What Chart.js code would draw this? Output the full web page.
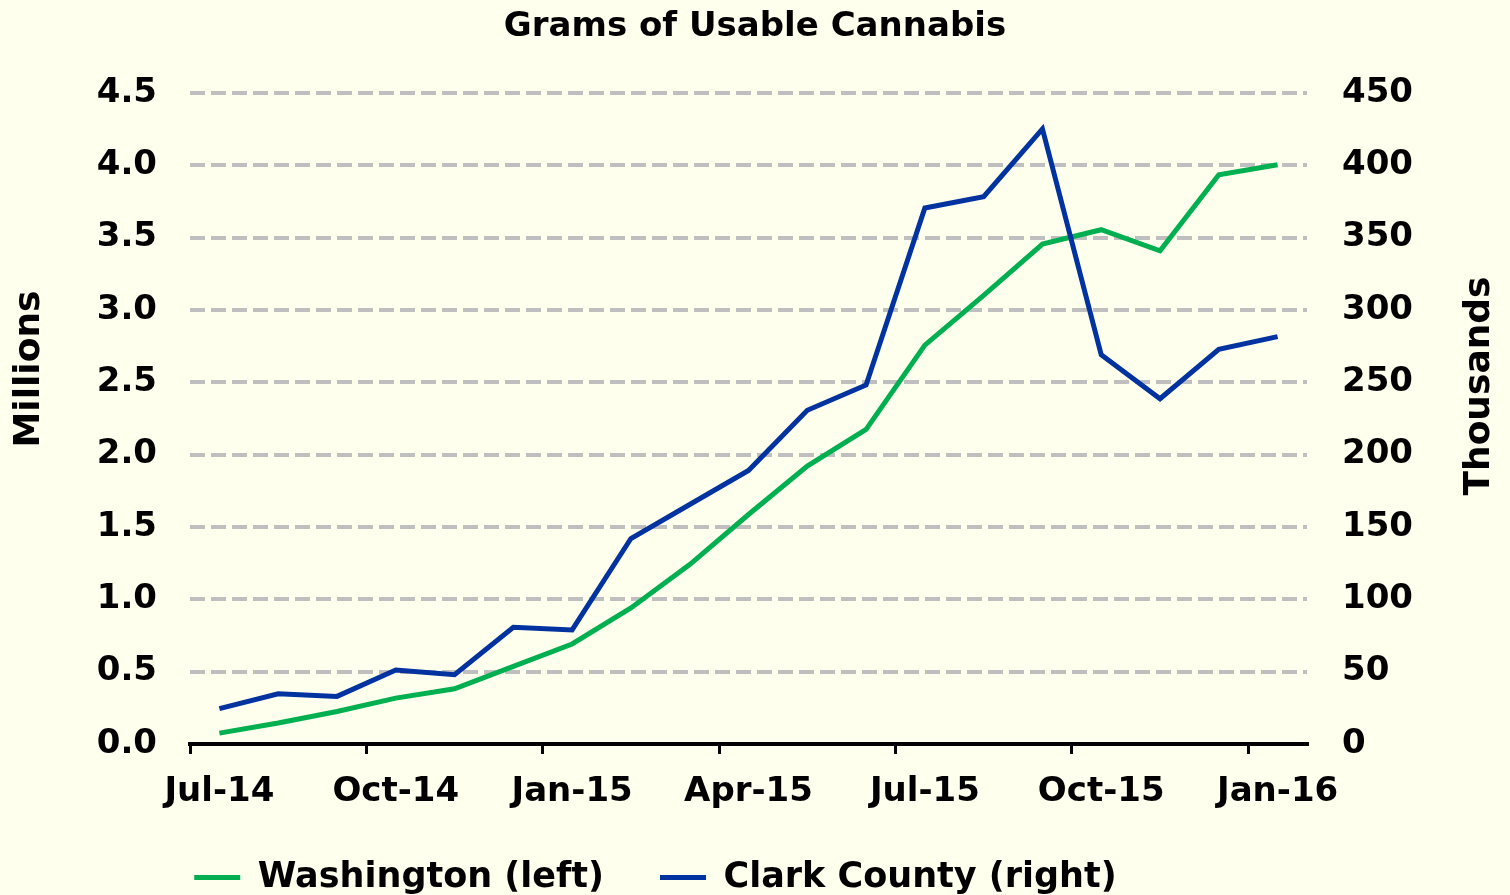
<!DOCTYPE html>
<html lang="en">
<head>
    <meta charset="UTF-8">
    <title>Grams of Usable Cannabis</title>
    <script src="https://cdn.jsdelivr.net/npm/chart.js"></script>
    <style>
        html, body {
            margin: 0;
            padding: 0;
            background: #FFFFEE;
        }
        #wrap {
            width: 1510px;
            height: 895px;
        }
    </style>
</head>
<body>
    <div id="wrap"><canvas id="gramsChart"></canvas></div>

    <script>
        // monthly data, Jul-14 .. Jan-16
        const months = ['Jul-14', 'Aug-14', 'Sep-14', 'Oct-14', 'Nov-14', 'Dec-14',
                        'Jan-15', 'Feb-15', 'Mar-15', 'Apr-15', 'May-15', 'Jun-15',
                        'Jul-15', 'Aug-15', 'Sep-15', 'Oct-15', 'Nov-15', 'Dec-15', 'Jan-16'];
        // Washington, millions of grams (left axis)
        const washington = [0.075, 0.145, 0.225, 0.317, 0.382, 0.536, 0.691, 0.94, 1.24, 1.586,
                            1.92, 2.174, 2.756, 3.10, 3.455, 3.554, 3.408, 3.934, 4.003];
        // Clark County, thousands of grams (right axis)
        const clarkCounty = [24.4, 34.7, 32.9, 51.1, 47.9, 80.6, 78.8, 142, 165.5, 189,
                             230.6, 248.1, 370.4, 378.2, 425, 268.9, 238.6, 272.8, 281.5];
        const leftTitle = 'Millions';
        const rightTitle = 'Thousands';

        const FONT = '"DejaVu Sans", Verdana, sans-serif';
        Chart.defaults.font.family = FONT;
        Chart.defaults.font.weight = 'bold';
        Chart.defaults.font.size = 34;
        Chart.defaults.color = '#000';

        // both axis titles read bottom-to-top in the original
        const axisTitles = {
            id: 'axisTitles',
            afterDraw(chart) {
                const ctx = chart.ctx;
                ctx.save();
                ctx.font = 'bold 36px ' + FONT;
                ctx.fillStyle = '#000';
                ctx.textAlign = 'center';
                ctx.textBaseline = 'middle';
                [[leftTitle, 30, 369], [rightTitle, 1480, 386]].forEach(([t, x, y]) => {
                    ctx.save();
                    ctx.translate(x, y);
                    ctx.rotate(-Math.PI / 2);
                    ctx.fillText(t, 0, 0);
                    ctx.restore();
                });
                ctx.restore();
            }
        };

        // legend sits a bit left of centre and a little lower;
        // x labels may spill past the axis box
        const layoutTweaks = {
            id: 'layoutTweaks',
            afterLayout(chart) {
                const lg = chart.legend;
                lg.left = 0;
                lg.right = 1311;
                lg.top += 10;
                lg.bottom += 10;
                chart.scales.x.bottom = chart.scales.x.top + 80;
            }
        };

        const ctx = document.getElementById('gramsChart').getContext('2d');
        new Chart(ctx, {
            type: 'line',
            data: {
                labels: months,
                datasets: [{
                    label: 'Washington (left)',
                    data: washington,
                    yAxisID: 'y',
                    borderColor: '#00B050',
                    backgroundColor: '#00B050',
                    borderWidth: 5,
                    pointRadius: 0,
                    tension: 0,
                    order: 1
                }, {
                    label: 'Clark County (right)',
                    data: clarkCounty,
                    yAxisID: 'y1',
                    borderColor: '#0033A0',
                    backgroundColor: '#0033A0',
                    borderWidth: 5,
                    pointRadius: 0,
                    tension: 0,
                    order: 0
                }]
            },
            options: {
                responsive: true,
                maintainAspectRatio: false,
                animation: false,
                plugins: {
                    title: {
                        display: true,
                        text: 'Grams of Usable Cannabis',
                        color: '#000',
                        font: { size: 34, weight: 'bold' },
                        padding: { top: 7, bottom: 45 }
                    },
                    legend: {
                        position: 'bottom',
                        labels: {
                            usePointStyle: true,
                            pointStyle: 'line',
                            pointStyleWidth: 46,
                            padding: 56,
                            color: '#000',
                            font: { size: 35, weight: 'bold' },
                            sort: (a, b) => a.datasetIndex - b.datasetIndex
                        }
                    },
                    tooltip: { enabled: false }
                },
                scales: {
                    x: {
                        offset: true,
                        grid: {
                            offset: true,
                            drawOnChartArea: false,
                            tickLength: 10,
                            lineWidth: 3,
                            color: c => c.index % 3 === 0 ? '#000' : 'rgba(0,0,0,0)'
                        },
                        border: { color: '#000', width: 4 },
                        ticks: {
                            autoSkip: false,
                            maxRotation: 0,
                            padding: 18,
                            callback: (v, i) => i % 3 === 0 ? months[i] : ''
                        },
                        afterFit: s => { s.height = 50; }
                    },
                    y: {
                        position: 'left',
                        min: 0,
                        max: 4.5,
                        ticks: {
                            stepSize: 0.5,
                            padding: 33,
                            callback: v => v.toFixed(1)
                        },
                        grid: {
                            drawTicks: false,
                            lineWidth: 4,
                            color: c => c.tick.value === 0 ? 'rgba(0,0,0,0)' : '#BFBFBF'
                        },
                        border: { display: false, dash: [15, 6] },
                        afterFit: s => { s.width = 190; }
                    },
                    y1: {
                        position: 'right',
                        min: 0,
                        max: 450,
                        ticks: { stepSize: 50, padding: 35 },
                        grid: { drawOnChartArea: false, drawTicks: false },
                        border: { display: false },
                        afterFit: s => { s.width = 203; }
                    }
                }
            },
            plugins: [axisTitles, layoutTweaks]
        });
    </script>
</body>
</html>
